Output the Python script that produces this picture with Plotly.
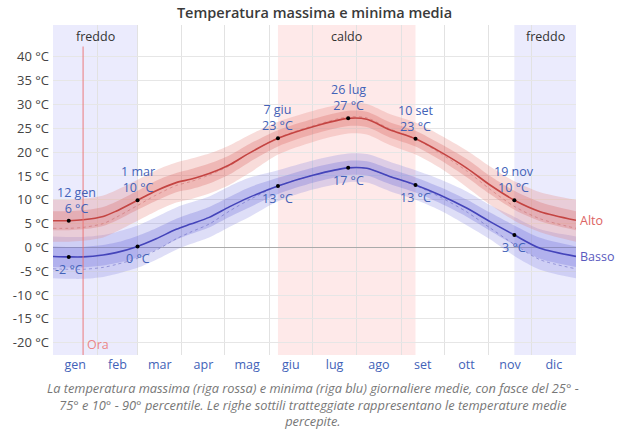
import plotly.graph_objects as go

# ---- data ----
days = [0, 11, 21, 35, 44, 59, 72, 86, 96, 109, 123, 137, 157, 182, 206, 219, 235, 253, 270, 289, 305, 322, 340, 365]

high = [5.6, 5.6, 5.8, 6.5, 7.6, 9.9, 11.9, 13.6, 14.3, 15.5, 17.3, 19.8, 22.9, 25.4, 27.1, 26.9, 24.7, 22.8, 20.1, 16.6, 13.1, 9.9, 7.5, 5.7]
high_p90 = [10.0, 10.0, 10.2, 10.9, 12.0, 14.2, 16.2, 17.8, 18.6, 19.7, 21.4, 23.6, 26.4, 28.7, 30.3, 30.1, 28.0, 26.2, 23.6, 20.3, 17.0, 13.9, 11.6, 10.0]
high_p75 = [7.6, 7.6, 7.8, 8.5, 9.6, 11.9, 14.0, 15.6, 16.4, 17.6, 19.3, 21.7, 24.6, 27.0, 28.7, 28.5, 26.3, 24.5, 21.8, 18.5, 15.0, 11.9, 9.5, 7.6]
high_p25 = [3.6, 3.6, 3.8, 4.5, 5.6, 7.9, 9.8, 11.6, 12.2, 13.4, 15.3, 17.9, 21.2, 23.8, 25.5, 25.3, 23.1, 21.2, 18.4, 14.7, 11.2, 7.9, 5.5, 3.6]
high_p10 = [1.2, 1.2, 1.4, 2.1, 3.3, 5.6, 7.6, 9.4, 10.1, 11.3, 13.1, 15.6, 19.5, 22.2, 23.9, 23.7, 21.5, 19.5, 16.7, 12.6, 9.0, 5.6, 3.2, 1.2]
high_feel = [4.0, 4.0, 4.2, 5.0, 6.3, 8.8, 11.0, 13.0, 13.8, 15.2, 17.1, 19.8, 23.0, 25.6, 27.4, 27.2, 24.9, 22.8, 19.8, 16.0, 12.2, 8.6, 6.0, 4.0]

low = [-1.9, -2.0, -2.0, -1.6, -1.1, 0.2, 1.8, 3.8, 4.9, 6.3, 8.5, 10.5, 12.9, 15.2, 16.7, 16.6, 14.9, 13.1, 11.0, 8.2, 5.4, 2.6, -0.2, -1.9]
low_p90 = [2.3, 2.2, 2.2, 2.6, 3.2, 4.6, 6.4, 8.4, 9.4, 10.7, 12.8, 14.6, 16.2, 18.3, 19.7, 19.6, 18.0, 16.2, 14.3, 11.7, 8.9, 6.4, 3.8, 2.3]
low_p75 = [0.2, 0.1, 0.1, 0.5, 1.0, 2.4, 4.0, 6.0, 7.1, 8.5, 10.6, 12.6, 14.6, 16.8, 18.2, 18.1, 16.5, 14.7, 12.7, 10.0, 7.3, 4.6, 2.0, 0.2]
low_p25 = [-4.1, -4.2, -4.2, -3.8, -3.3, -2.1, -0.5, 1.6, 2.8, 4.2, 6.4, 8.4, 11.2, 13.6, 15.2, 15.1, 13.3, 11.5, 9.3, 6.4, 3.5, 0.5, -2.4, -4.1]
low_p10 = [-6.5, -6.6, -6.6, -6.2, -5.6, -4.3, -2.6, -0.5, 0.7, 2.1, 4.3, 6.4, 9.7, 12.2, 13.7, 13.6, 11.8, 10.0, 7.8, 4.6, 1.7, -1.8, -4.7, -6.5]
low_feel = [-4.5, -4.6, -4.6, -4.2, -3.6, -2.3, -0.6, 1.8, 3.2, 4.9, 7.6, 10.0, 12.9, 15.2, 16.7, 16.6, 14.9, 13.0, 10.6, 7.4, 4.1, 0.6, -2.6, -4.5]

month_labels = ["gen", "feb", "mar", "apr", "mag", "giu", "lug", "ago", "set", "ott", "nov", "dic"]
month_starts = [0, 31, 59, 90, 120, 151, 181, 212, 243, 273, 304, 334, 365]
month_mids = [15.5, 45, 74.5, 105, 135.5, 166, 196.5, 227.5, 258, 288.5, 319, 349.5]

y_ticks = [40, 35, 30, 25, 20, 15, 10, 5, 0, -5, -10, -15, -20]
y_labels = ["%d °C" % v for v in y_ticks]

# key points
key_days = [11, 59, 157, 206, 253, 322]
key_vals_high = [5.6, 9.9, 22.9, 27.1, 22.8, 9.9]
key_dates = ["12 gen", "1 mar", "7 giu", "26 lug", "10 set", "19 nov"]
key_text_high = ["6 °C", "10 °C", "23 °C", "27 °C", "23 °C", "10 °C"]
key_vals_low = [-2.0, 0.2, 12.9, 16.7, 13.1, 2.6]
key_text_low = ["-2 °C", "0 °C", "13 °C", "17 °C", "13 °C", "3 °C"]

seasons = [("freddo", 0, 59, "rgba(190,190,250,0.30)"),
           ("caldo", 157, 253, "rgba(250,175,175,0.28)"),
           ("freddo", 322, 365, "rgba(190,190,250,0.30)")]
now_day = 21

RED = "rgb(196,68,66)"
BLUE = "rgb(68,68,186)"
LBL = "rgb(66,98,184)"

fig = go.Figure()

def band(lo, hi, color):
    fig.add_trace(go.Scatter(x=days, y=lo, mode="lines", line=dict(width=0, shape="spline", smoothing=0.8),
                             hoverinfo="skip", showlegend=False))
    fig.add_trace(go.Scatter(x=days, y=hi, mode="lines", line=dict(width=0, shape="spline", smoothing=0.8),
                             fill="tonexty", fillcolor=color, hoverinfo="skip", showlegend=False))

band(low_p10, low_p90, "rgba(125,125,225,0.25)")
band(low_p25, low_p75, "rgba(100,100,215,0.28)")
band(high_p10, high_p90, "rgba(230,125,120,0.27)")
band(high_p25, high_p75, "rgba(215,95,90,0.28)")

fig.add_trace(go.Scatter(x=days, y=low_feel, mode="lines",
                         line=dict(color="rgba(90,90,190,0.5)", width=1, dash="dot", shape="spline", smoothing=0.8),
                         showlegend=False))
fig.add_trace(go.Scatter(x=days, y=high_feel, mode="lines",
                         line=dict(color="rgba(190,80,80,0.4)", width=1, dash="dot", shape="spline", smoothing=0.8),
                         showlegend=False))
fig.add_trace(go.Scatter(x=days, y=low, mode="lines",
                         line=dict(color=BLUE, width=1.6, shape="spline", smoothing=0.8), showlegend=False))
fig.add_trace(go.Scatter(x=days, y=high, mode="lines",
                         line=dict(color=RED, width=1.6, shape="spline", smoothing=0.8), showlegend=False))
fig.add_trace(go.Scatter(x=key_days + key_days, y=key_vals_high + key_vals_low, mode="markers",
                         marker=dict(color="black", size=4), showlegend=False))

shapes = []
for name, x0, x1, col in seasons:
    shapes.append(dict(type="rect", xref="x", yref="paper", x0=x0, x1=x1, y0=0, y1=1,
                       fillcolor=col, line=dict(width=0), layer="below"))
shapes.append(dict(type="line", xref="x", yref="paper", x0=now_day, x1=now_day, y0=0, y1=0.935,
                   line=dict(color="rgba(235,110,110,0.75)", width=1.2), layer="above"))

annotations = []
for name, x0, x1, col in seasons:
    annotations.append(dict(x=(x0 + x1) / 2, y=0.964, xref="x", yref="paper", text=name, yanchor="middle",
                            showarrow=False, font=dict(size=12.5, color="#333")))
annotations.append(dict(x=now_day, y=-20.4, xref="x", yref="y", text="Ora", xanchor="left", xshift=2,
                        yanchor="middle", showarrow=False, font=dict(size=12.5, color="rgba(235,120,120,0.9)")))
for i, (d, v, dt, t) in enumerate(zip(key_days, key_vals_high, key_dates, key_text_high)):
    annotations.append(dict(x=d, y=v, xref="x", yref="y", text=dt + "<br>" + t, yanchor="bottom",
                            yshift=2, xshift=(8 if i == 0 else 0), showarrow=False,
                            font=dict(size=12.5, color=LBL)))
for d, v, t in zip(key_days, key_vals_low, key_text_low):
    annotations.append(dict(x=d, y=v, xref="x", yref="y", text=t, yanchor="top",
                            yshift=-2, showarrow=False, font=dict(size=12.5, color=LBL)))
annotations.append(dict(x=365, y=high[-1], xref="x", yref="y", text="Alto", xanchor="left", xshift=2,
                        showarrow=False, font=dict(size=12.5, color="rgb(220,100,100)")))
annotations.append(dict(x=365, y=low[-1], xref="x", yref="y", text="Basso", xanchor="left", xshift=2,
                        showarrow=False, font=dict(size=12.5, color="rgb(90,90,190)")))
annotations.append(dict(x=0.497, y=-0.066, xref="paper", yref="paper", yanchor="top",
                        text="<i>La temperatura massima (riga rossa) e minima (riga blu) giornaliere medie, con fasce del 25° -<br>"
                             "75° e 10° - 90° percentile. Le righe sottili tratteggiate rappresentano le temperature medie<br>"
                             "percepite.</i>",
                        showarrow=False, align="center", font=dict(size=12.8, color="#777")))

fig.update_layout(
    width=625, height=438,
    margin=dict(l=53, r=49, t=25, b=83),
    paper_bgcolor="white", plot_bgcolor="white",
    font=dict(family="Open Sans, Noto Sans, sans-serif"),
    title=dict(text="Temperatura massima e minima media", x=0.5, xanchor="center", y=0.97, yanchor="middle",
               xref="paper", font=dict(size=14.5, color="#3a3a3a", weight=600)),
    shapes=shapes, annotations=annotations,
    xaxis=dict(range=[0, 365], tickvals=month_mids, ticktext=month_labels, showgrid=False,
               zeroline=False, ticks="", tickfont=dict(size=12.5, color=LBL),
               minor=dict(tickvals=month_starts, showgrid=True, gridcolor="#e2e2e2", gridwidth=1)),
    yaxis=dict(range=[-22.6, 46.7], tickvals=y_ticks, ticktext=y_labels, showgrid=True,
               gridcolor="#e6e6e6", zeroline=True, zerolinecolor="#aaa", zerolinewidth=1,
               tickfont=dict(size=13, color="#444"), ticks="", ticklabelstandoff=3),
    showlegend=False,
)

fig.write_html("out.html")
